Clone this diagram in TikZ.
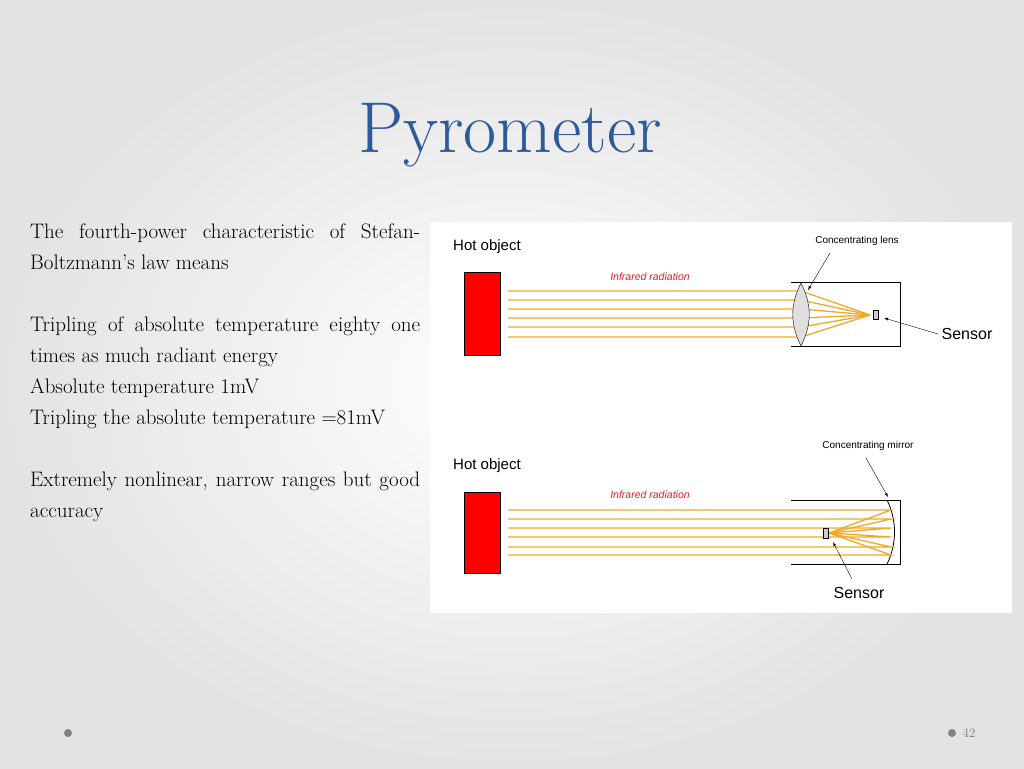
\documentclass[tikz,border=0pt]{standalone}
\usepackage{fontspec}
\usepackage{xcolor}
\usepackage{tikz}
\usetikzlibrary{positioning}
\newfontfamily\arial{Liberation Sans}
\definecolor{titleblue}{RGB}{44,90,155}
\definecolor{raycol}{RGB}{240,170,40}
\definecolor{irred}{RGB}{225,30,40}

\begin{document}
\begin{tikzpicture}[x=1pt,y=-1pt,
	ray/.style={raycol,line width=1.3pt},
	label/.style={font=\arial\fontsize{15}{15}\selectfont},
	small/.style={font=\arial\fontsize{10}{10}\selectfont},
	ir/.style={font=\arial\itshape\fontsize{10.5}{10.5}\selectfont,text=irred},
	body/.style={anchor=north west,text width=390pt,align=justify,inner sep=0pt,
		font=\fontsize{21}{31}\selectfont}]
	\useasboundingbox (0,0) rectangle (1024,768);
	\shade[inner color=white,outer color=gray!22] (0,0) rectangle (1024,768);
	\node[text=titleblue,font=\fontsize{72}{72}\selectfont] (title) at (510,135) {Pyrometer};
	
	\node[body] (text) at (30,224) {The fourth-power characteristic of Stefan-Boltzmann's law means\\[31pt]
		Tripling of absolute temperature eighty one times as much radiant energy\\
		Absolute temperature 1mV\\
		Tripling the absolute temperature =81mV\\[31pt]
		Extremely nonlinear, narrow ranges but good accuracy};
	
	\fill[white] (430,222) rectangle (1012,613);
	
	% lens pyrometer
	\node[label] (hot1) at (487,247) {Hot object};
	\draw[fill=red] (464,272) rectangle (500,355);
	\node[ir] (ir1) at (650,277) {Infrared radiation};
	\draw[thick] (791,282) -- (900,282) -- (900,346) -- (791,346);
	\coordinate (f1) at (870,315);
	\foreach \y in {291,300,309,318,327,337} {
		\draw[ray] (508,\y) -- (801,\y) -- (f1);
	}
	\draw[fill=gray!25] (801,283) .. controls (790,305) and (790,324) .. (801,346)
		.. controls (812,324) and (812,305) .. (801,283);
	\draw[fill=gray!40] (873,310) rectangle (878,319);
	\node[small] (lens) at (857,241) {Concentrating lens};
	\node[label,font=\arial\fontsize{16}{16}\selectfont] (sens1) at (967,334) {Sensor};
	\coordinate (lensend) at (808,290);
	\coordinate (sensend1) at (884,318);
	\draw[-latex] (830,253) -- (lensend);
	\draw[-latex] (sens1.west) -- (sensend1);
	
	% mirror pyrometer
	\node[label] (hot2) at (487,466) {Hot object};
	\draw[fill=red] (464,492) rectangle (500,573);
	\node[ir] (ir2) at (650,495) {Infrared radiation};
	\draw[thick] (791,500) -- (900,500) -- (900,564) -- (791,564);
	\draw[thick] (887,500) .. controls (897,520) and (897,544) .. (887,564);
	\coordinate (f2) at (829,533);
	\foreach \y in {510,519,528,537,547,555} {
		\draw[ray] (508,\y) -- (891,\y) -- (f2);
	}
	\draw[fill=gray!40] (823,528) rectangle (828,538);
	\node[small] (mirror) at (868,446) {Concentrating mirror};
	\node[label,font=\arial\fontsize{16}{16}\selectfont] (sens2) at (859,593) {Sensor};
	\coordinate (mirrend) at (888,497);
	\coordinate (sensend2) at (833,542);
	\draw[-latex] (866,458) -- (mirrend);
	\draw[-latex] (852,579) -- (sensend2);
	
	% footer
	\fill[gray] (68,733) circle (4);
	\fill[gray] (952,733) circle (4);
	\node[text=gray,font=\fontsize{13}{13}\selectfont] (page) at (969,733) {42};
\end{tikzpicture}
\end{document}
